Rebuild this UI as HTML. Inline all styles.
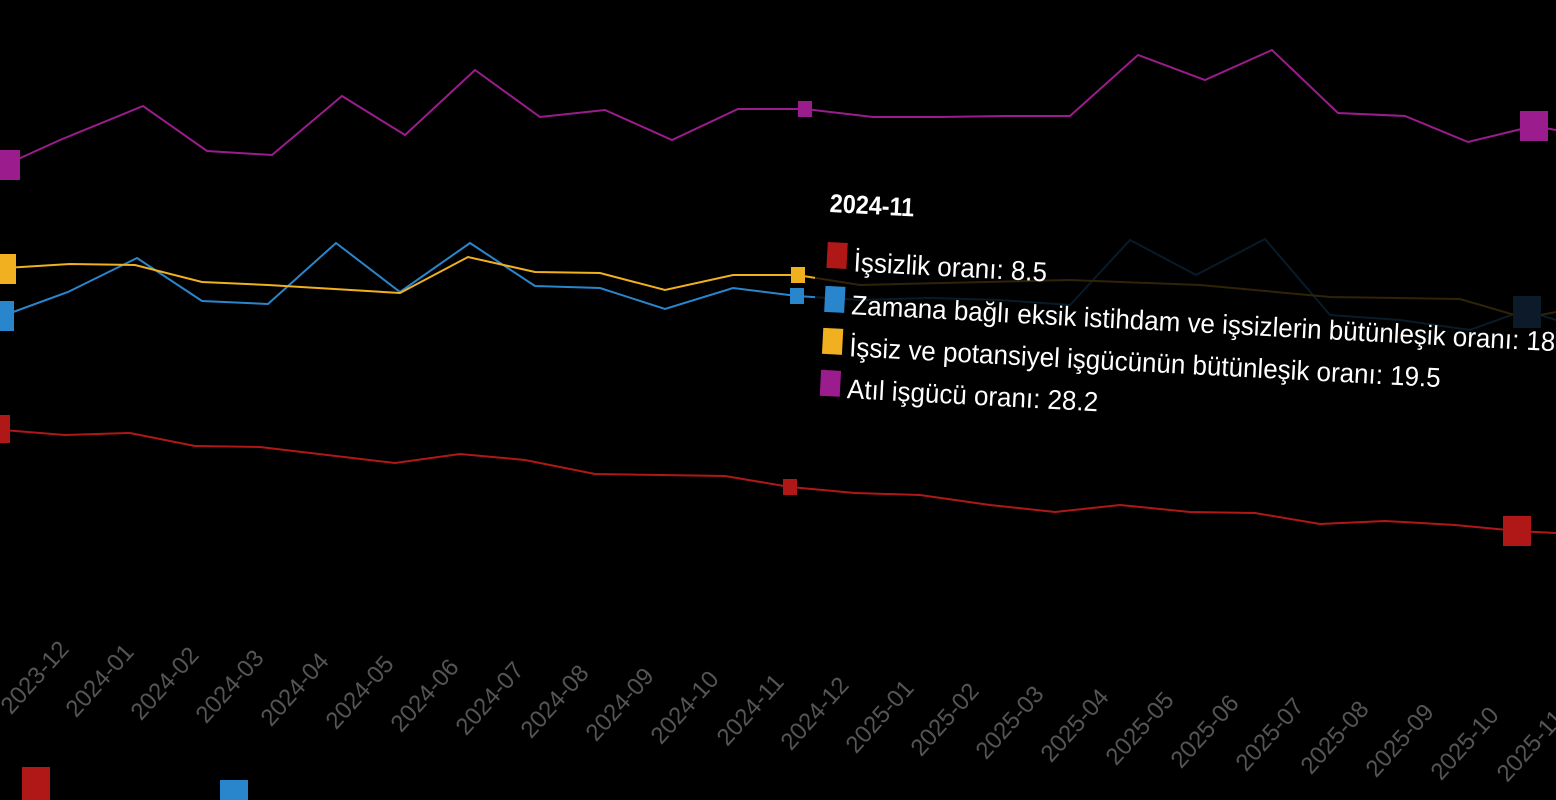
<!DOCTYPE html>
<html><head><meta charset="utf-8"><style>
html,body{margin:0;padding:0;background:#000;width:1556px;height:800px;overflow:hidden}
svg{display:block}
.t{font-family:"Liberation Sans",sans-serif;fill:#555;font-size:24px}
.tt{font-family:"Liberation Sans",sans-serif;fill:#fff;font-size:26px}
</style></head><body>
<svg width="1556" height="800" viewBox="0 0 1556 800">
<g fill="none" stroke-width="2">
<polyline stroke="#9b1c8c" points="5,165 60,140 143,106 207,151 272,155 342,96 405,135 475,70 540,117 605,110 672,140 738,109 805,109 873,117 940,117 1005,116 1070,116 1138,55 1205,80 1272,50 1338,113 1405,116 1468,142 1534,126 1556,130"/>
<polyline stroke="#2a86cc" points="5,315 68,292 137,258 202,301 268,304 336,243 400,292 470,243 535,286 600,288 665,309 733,288 797,296 860,300 930,298 1000,300 1070,305 1130,240 1196,275 1265,239 1330,315 1400,320 1470,330 1525,310 1556,320"/>
<polyline stroke="#f0b020" points="5,268 70,264 135,265 202,282 268,285 400,293 468,257 535,272 600,273 665,290 733,275 797,275 860,285 1070,280 1200,285 1330,297 1460,299 1525,318 1556,312"/>
<polyline stroke="#b01818" points="3,430 65,435 130,433 195,446 260,447 395,463 460,454 525,460 595,474 660,475 725,476 790,487 855,493 920,495 990,505 1055,512 1120,505 1190,512 1255,513 1320,524 1385,521 1455,525 1518,531 1556,533"/>
</g>
<rect x="815" y="178" width="741" height="244" fill="#000" opacity="0.8"/>
<g>
<rect x="-6" y="150" width="26" height="30" fill="#9b1c8c"/>
<rect x="1520" y="111" width="28" height="30" fill="#9b1c8c"/>
<rect x="798" y="101" width="14" height="16" fill="#9b1c8c"/>
<rect x="-8" y="254" width="24" height="30" fill="#f0b020"/>
<rect x="791" y="267" width="14" height="16" fill="#f0b020"/>
<rect x="-8" y="301" width="22" height="30" fill="#2a86cc"/>
<rect x="790" y="288" width="14" height="16" fill="#2a86cc"/>
<rect x="1513" y="296" width="28" height="32" fill="#0d1a2a"/>
<rect x="-8" y="415" width="18" height="28" fill="#b01818"/>
<rect x="783" y="479" width="14" height="16" fill="#b01818"/>
<rect x="1503" y="516" width="28" height="30" fill="#b01818"/>
<rect x="22" y="767" width="28" height="40" fill="#b01818"/>
<rect x="220" y="780" width="28" height="30" fill="#2a86cc"/>
</g>
<g class="t" text-anchor="end">
<text transform="translate(70,650) rotate(-48)">2023-12</text>
<text transform="translate(135,653) rotate(-48)">2024-01</text>
<text transform="translate(200,656) rotate(-48)">2024-02</text>
<text transform="translate(265,659) rotate(-48)">2024-03</text>
<text transform="translate(330,662) rotate(-48)">2024-04</text>
<text transform="translate(395,665) rotate(-48)">2024-05</text>
<text transform="translate(460,668) rotate(-48)">2024-06</text>
<text transform="translate(525,671) rotate(-48)">2024-07</text>
<text transform="translate(590,674) rotate(-48)">2024-08</text>
<text transform="translate(655,677) rotate(-48)">2024-09</text>
<text transform="translate(720,680) rotate(-48)">2024-10</text>
<text transform="translate(785,683) rotate(-48)">2024-11</text>
<text transform="translate(850,686) rotate(-48)">2024-12</text>
<text transform="translate(915,689) rotate(-48)">2025-01</text>
<text transform="translate(980,692) rotate(-48)">2025-02</text>
<text transform="translate(1045,695) rotate(-48)">2025-03</text>
<text transform="translate(1110,698) rotate(-48)">2025-04</text>
<text transform="translate(1175,701) rotate(-48)">2025-05</text>
<text transform="translate(1240,704) rotate(-48)">2025-06</text>
<text transform="translate(1305,707) rotate(-48)">2025-07</text>
<text transform="translate(1370,710) rotate(-48)">2025-08</text>
<text transform="translate(1435,713) rotate(-48)">2025-09</text>
<text transform="translate(1500,716) rotate(-48)">2025-10</text>
<text transform="translate(1565,719) rotate(-48)">2025-11</text>
</g>
<g transform="rotate(3 830 200)">
<text class="tt" font-weight="bold" transform="translate(830,212) scale(0.9,1)">2024-11</text>
<rect x="830" y="242" width="20" height="26" fill="#b01818"/>
<text class="tt" transform="translate(857,270) scale(1.0,1.05)">İşsizlik oranı: 8.5</text>
<rect x="830" y="286" width="20" height="26" fill="#2a86cc"/>
<text class="tt" transform="translate(857,313) scale(1.0,1.05)">Zamana bağlı eksik istihdam ve işsizlerin bütünleşik oranı: 18.4</text>
<rect x="830" y="328" width="20" height="26" fill="#f0b020"/>
<text class="tt" transform="translate(857,355) scale(1.0,1.05)">İşsiz ve potansiyel işgücünün bütünleşik oranı: 19.5</text>
<rect x="830" y="370" width="20" height="26" fill="#9b1c8c"/>
<text class="tt" transform="translate(857,397) scale(1.0,1.05)">Atıl işgücü oranı: 28.2</text>
</g>
</svg>
</body></html>
